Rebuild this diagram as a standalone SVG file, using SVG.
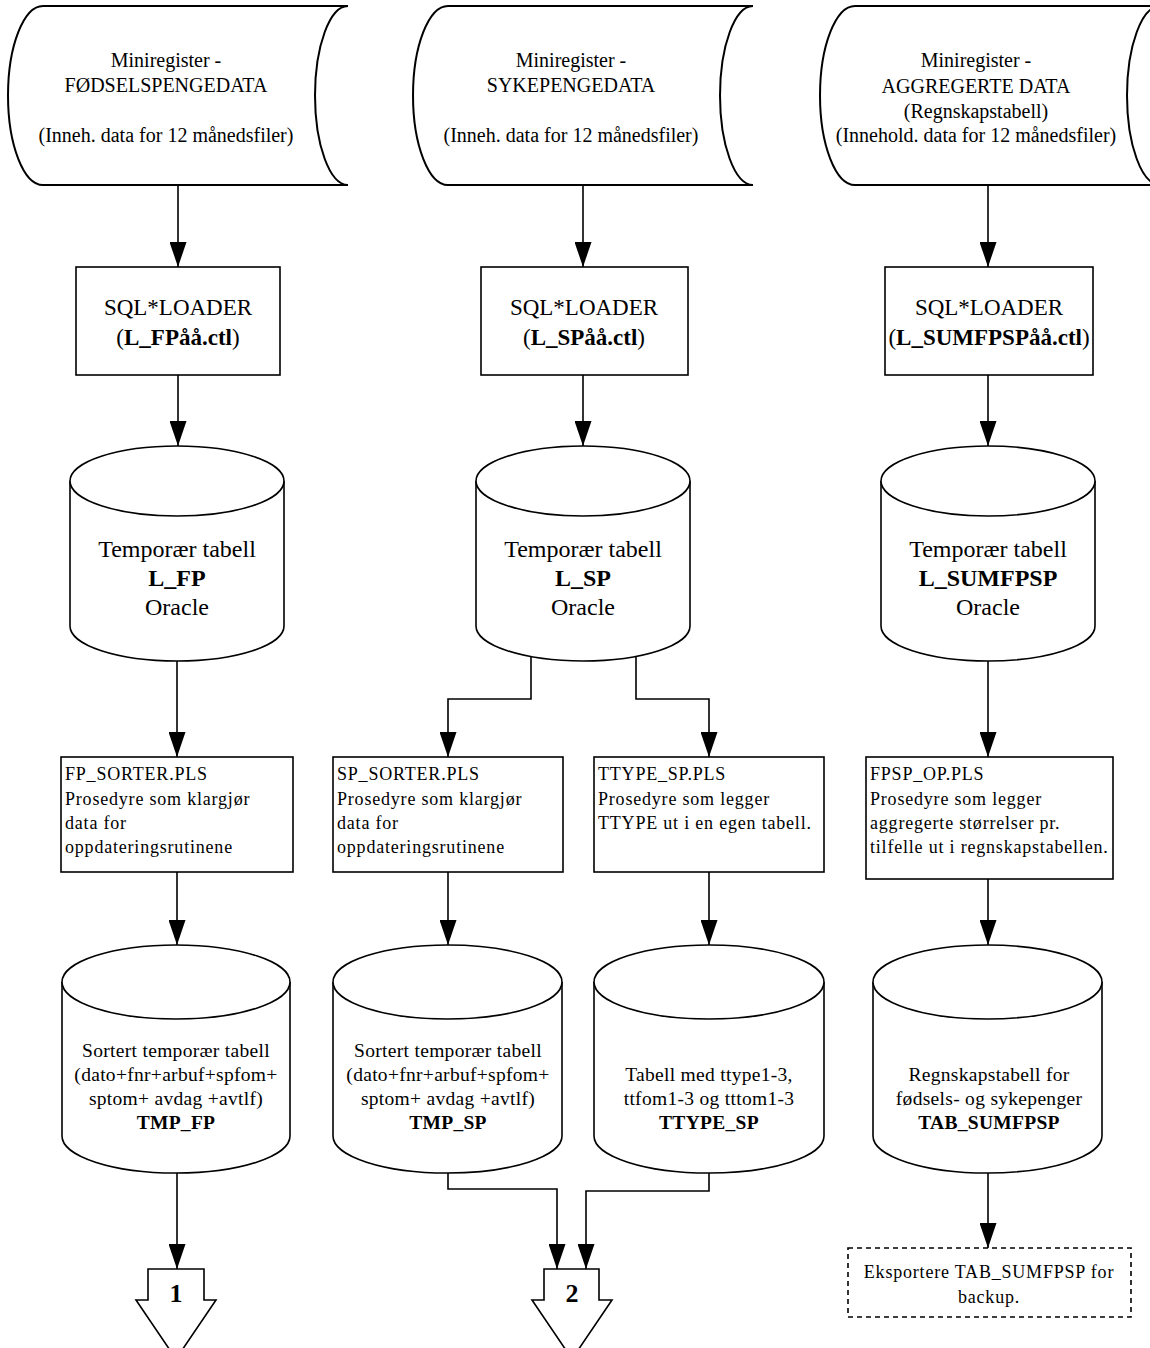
<svg xmlns="http://www.w3.org/2000/svg" width="1150" height="1348" viewBox="0 0 1150 1348">
<style>
  text { font-family: "Liberation Serif", "Times New Roman", serif; fill: #000; }
  .shape { fill: #fff; stroke: #000; stroke-width: 2; }
  .thin { fill: #fff; stroke: #000; stroke-width: 1.6; }
  .dash { fill: #fff; stroke: #000; stroke-width: 1.6; stroke-dasharray: 5 4; }
  .conn { fill: none; stroke: #000; stroke-width: 1.6; marker-end: url(#arr); }
  .t20 { font-size: 20px; text-anchor: middle; }
  .t24 { font-size: 24px; text-anchor: middle; }
  .t23 { font-size: 23px; text-anchor: middle; }
  .proc { font-size: 18px; letter-spacing: 0.8px; }
  .cyl { font-size: 19.5px; text-anchor: middle; letter-spacing: 0.3px; }
  .b { font-weight: bold; }
  .num { font-size: 26px; font-weight: bold; text-anchor: middle; }
</style>
<defs>
  <marker id="arr" viewBox="0 0 25 17" refX="25" refY="8.5" markerWidth="25" markerHeight="17" markerUnits="userSpaceOnUse" orient="auto">
    <path d="M0,0 L25,8.5 L0,17 Z" fill="#000"/>
  </marker>
</defs>
<rect width="1150" height="1348" fill="#fff"/>

<!-- Stored data sources -->
<g id="src-fp">
  <path class="shape" d="M43,6 L348,6 A33,89.5 0 0,0 348,185 L43,185 A35,89.5 0 0,1 43,6 Z"/>
  <text class="t20" x="166" y="67">Miniregister -</text>
  <text class="t20" x="166" y="92">FØDSELSPENGEDATA</text>
  <text class="t20" x="166" y="142">(Inneh. data for 12 månedsfiler)</text>
</g>
<g id="src-sp">
  <path class="shape" d="M448,6 L753,6 A33,89.5 0 0,0 753,185 L448,185 A35,89.5 0 0,1 448,6 Z"/>
  <text class="t20" x="571" y="67">Miniregister -</text>
  <text class="t20" x="571" y="92">SYKEPENGEDATA</text>
  <text class="t20" x="571" y="142">(Inneh. data for 12 månedsfiler)</text>
</g>
<g id="src-agg">
  <path class="shape" d="M855,6 L1160,6 A33,89.5 0 0,0 1160,185 L855,185 A35,89.5 0 0,1 855,6 Z"/>
  <text class="t20" x="976" y="67">Miniregister -</text>
  <text class="t20" x="976" y="93">AGGREGERTE DATA</text>
  <text class="t20" x="976" y="118">(Regnskapstabell)</text>
  <text class="t20" x="976" y="142">(Innehold. data for 12 månedsfiler)</text>
</g>

<!-- SQL*LOADER boxes -->
<g id="load-fp">
  <rect class="thin" x="76" y="267" width="204" height="108"/>
  <text class="t23" x="178" y="315">SQL*LOADER</text>
  <text class="t23" x="178" y="345">(<tspan class="b">L_FPåå.ctl</tspan>)</text>
</g>
<g id="load-sp">
  <rect class="thin" x="481" y="267" width="207" height="108"/>
  <text class="t23" x="584" y="315">SQL*LOADER</text>
  <text class="t23" x="584" y="345">(<tspan class="b">L_SPåå.ctl</tspan>)</text>
</g>
<g id="load-agg">
  <rect class="thin" x="885" y="267" width="208" height="108"/>
  <text class="t23" x="989" y="315">SQL*LOADER</text>
  <text class="t23" x="989" y="345">(<tspan class="b">L_SUMFPSPåå.ctl</tspan>)</text>
</g>

<!-- Temporary tables -->
<g id="tmp-fp">
  <path class="thin" d="M70,481 A107,35 0 0,1 284,481 L284,626 A107,35 0 0,1 70,626 Z"/>
  <path class="thin" fill="none" d="M70,481 A107,35 0 0,0 284,481"/>
  <text class="t24" x="177" y="557">Temporær tabell</text>
  <text class="t24 b" x="177" y="586">L_FP</text>
  <text class="t24" x="177" y="615">Oracle</text>
</g>
<g id="tmp-sp">
  <path class="thin" d="M476,481 A107,35 0 0,1 690,481 L690,626 A107,35 0 0,1 476,626 Z"/>
  <path class="thin" fill="none" d="M476,481 A107,35 0 0,0 690,481"/>
  <text class="t24" x="583" y="557">Temporær tabell</text>
  <text class="t24 b" x="583" y="586">L_SP</text>
  <text class="t24" x="583" y="615">Oracle</text>
</g>
<g id="tmp-agg">
  <path class="thin" d="M881,481 A107,35 0 0,1 1095,481 L1095,626 A107,35 0 0,1 881,626 Z"/>
  <path class="thin" fill="none" d="M881,481 A107,35 0 0,0 1095,481"/>
  <text class="t24" x="988" y="557">Temporær tabell</text>
  <text class="t24 b" x="988" y="586">L_SUMFPSP</text>
  <text class="t24" x="988" y="615">Oracle</text>
</g>

<!-- Procedure boxes -->
<g id="proc-fp">
  <rect class="thin" x="61" y="757" width="232" height="115"/>
  <text class="proc" x="65" y="780">FP_SORTER.PLS</text>
  <text class="proc" x="65" y="805">Prosedyre som klargjør</text>
  <text class="proc" x="65" y="829">data for</text>
  <text class="proc" x="65" y="853">oppdateringsrutinene</text>
</g>
<g id="proc-sp">
  <rect class="thin" x="333" y="757" width="230" height="115"/>
  <text class="proc" x="337" y="780">SP_SORTER.PLS</text>
  <text class="proc" x="337" y="805">Prosedyre som klargjør</text>
  <text class="proc" x="337" y="829">data for</text>
  <text class="proc" x="337" y="853">oppdateringsrutinene</text>
</g>
<g id="proc-ttype">
  <rect class="thin" x="594" y="757" width="230" height="115"/>
  <text class="proc" x="598" y="780">TTYPE_SP.PLS</text>
  <text class="proc" x="598" y="805">Prosedyre som legger</text>
  <text class="proc" x="598" y="829">TTYPE ut i en egen tabell.</text>
</g>
<g id="proc-agg">
  <rect class="thin" x="866" y="757" width="247" height="122"/>
  <text class="proc" x="870" y="780">FPSP_OP.PLS</text>
  <text class="proc" x="870" y="805">Prosedyre som legger</text>
  <text class="proc" x="870" y="829">aggregerte størrelser pr.</text>
  <text class="proc" x="870" y="853">tilfelle ut i regnskapstabellen.</text>
</g>

<!-- Result tables -->
<g id="res-fp">
  <path class="thin" d="M62,982 A114,37 0 0,1 290,982 L290,1136 A114,37 0 0,1 62,1136 Z"/>
  <path class="thin" fill="none" d="M62,982 A114,37 0 0,0 290,982"/>
  <text class="cyl" x="176" y="1057">Sortert temporær tabell</text>
  <text class="cyl" x="176" y="1081">(dato+fnr+arbuf+spfom+</text>
  <text class="cyl" x="176" y="1105">sptom+ avdag +avtlf)</text>
  <text class="cyl b" x="176" y="1129">TMP_FP</text>
</g>
<g id="res-sp">
  <path class="thin" d="M333,982 A114.5,37 0 0,1 562,982 L562,1136 A114.5,37 0 0,1 333,1136 Z"/>
  <path class="thin" fill="none" d="M333,982 A114.5,37 0 0,0 562,982"/>
  <text class="cyl" x="448" y="1057">Sortert temporær tabell</text>
  <text class="cyl" x="448" y="1081">(dato+fnr+arbuf+spfom+</text>
  <text class="cyl" x="448" y="1105">sptom+ avdag +avtlf)</text>
  <text class="cyl b" x="448" y="1129">TMP_SP</text>
</g>
<g id="res-ttype">
  <path class="thin" d="M594,982 A115,37 0 0,1 824,982 L824,1136 A115,37 0 0,1 594,1136 Z"/>
  <path class="thin" fill="none" d="M594,982 A115,37 0 0,0 824,982"/>
  <text class="cyl" x="709" y="1081">Tabell med ttype1-3,</text>
  <text class="cyl" x="709" y="1105">ttfom1-3 og tttom1-3</text>
  <text class="cyl b" x="709" y="1129">TTYPE_SP</text>
</g>
<g id="res-agg">
  <path class="thin" d="M873,982 A114.5,37 0 0,1 1102,982 L1102,1136 A114.5,37 0 0,1 873,1136 Z"/>
  <path class="thin" fill="none" d="M873,982 A114.5,37 0 0,0 1102,982"/>
  <text class="cyl" x="989" y="1081">Regnskapstabell for</text>
  <text class="cyl" x="989" y="1105">fødsels- og sykepenger</text>
  <text class="cyl b" x="989" y="1129">TAB_SUMFPSP</text>
</g>

<!-- Off-page connectors and export -->
<g id="off-1">
  <path class="thin" d="M148,1269 L204,1269 L204,1300 L216,1300 L176,1359 L136,1300 L148,1300 Z"/>
  <text class="num" x="176" y="1302">1</text>
</g>
<g id="off-2">
  <path class="thin" d="M544,1269 L599,1269 L599,1300 L612,1300 L572,1359 L532,1300 L544,1300 Z"/>
  <text class="num" x="572" y="1302">2</text>
</g>
<g id="export">
  <rect class="dash" x="848" y="1248" width="283" height="69"/>
  <text class="proc" x="989" y="1278" text-anchor="middle">Eksportere TAB_SUMFPSP for</text>
  <text class="proc" x="989" y="1303" text-anchor="middle">backup.</text>
</g>

<!-- Connectors -->
<g id="connectors">
  <path class="conn" d="M178,185 L178,267"/>
  <path class="conn" d="M178,375 L178,446"/>
  <path class="conn" d="M177,661 L177,757"/>
  <path class="conn" d="M177,872 L177,945"/>
  <path class="conn" d="M177,1173 L177,1269"/>

  <path class="conn" d="M583,185 L583,267"/>
  <path class="conn" d="M583,375 L583,446"/>
  <path class="conn" d="M531,657 L531,699 L448,699 L448,757"/>
  <path class="conn" d="M636,657 L636,699 L709,699 L709,757"/>
  <path class="conn" d="M448,872 L448,945"/>
  <path class="conn" d="M709,872 L709,945"/>
  <path class="conn" d="M448,1173 L448,1189 L557,1189 L557,1269"/>
  <path class="conn" d="M709,1173 L709,1191 L586,1191 L586,1269"/>

  <path class="conn" d="M988,185 L988,267"/>
  <path class="conn" d="M988,375 L988,446"/>
  <path class="conn" d="M988,661 L988,757"/>
  <path class="conn" d="M988,879 L988,945"/>
  <path class="conn" d="M988,1173 L988,1248"/>
</g>
</svg>
